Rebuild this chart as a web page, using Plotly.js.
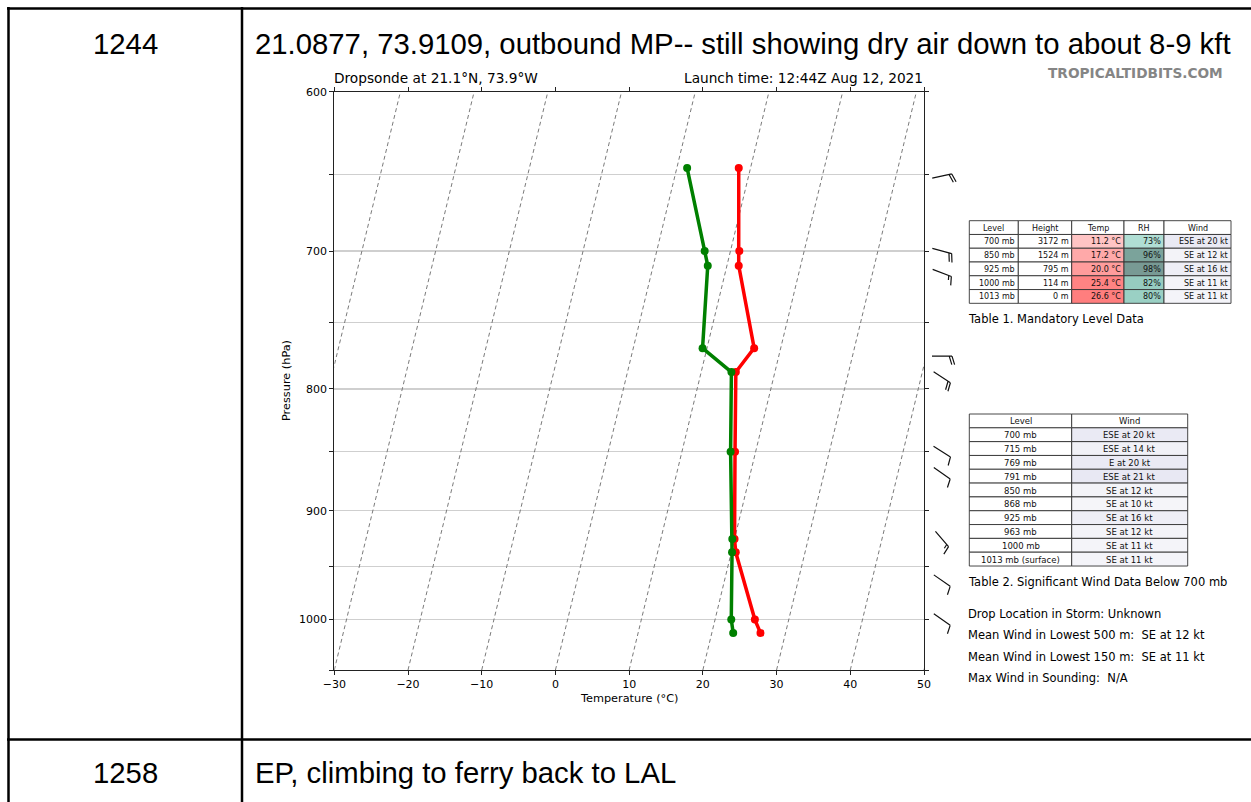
<!DOCTYPE html>
<html><head><meta charset="utf-8">
<script src="https://cdn.plot.ly/plotly-3.0.1.min.js"></script>
<style>html,body{margin:0;padding:0;background:#fff;}#chart{width:1251px;height:802px;}</style>
</head><body><div id="chart"></div>
<script>
// ---------------- data ----------------
const pressureLevels = [646, 700, 710, 769, 787, 850, 925, 937, 1000, 1013];
const temperatureC   = [8.4, 11.2, 11.6, 16.4, 14.7, 17.2, 20.0, 20.6, 25.4, 26.6];
const dewpointC      = [1.4, 6.5, 7.4, 9.4, 14.1, 16.6, 19.7, 20.1, 22.2, 22.9];

const barbPressure  = [651, 700, 715, 775, 791, 850, 868, 925, 963, 1000];
const barbDirection = [78, 105, 111, 90, 123, 122, 125, 139, 125, 125];
const barbSpeed     = [20, 20, 14, 20, 21, 12, 10, 16, 12, 11];

const xTickVals = [-30, -20, -10, 0, 10, 20, 30, 40, 50];
const xTickText = ['\u221230', '\u221220', '\u221210', '0', '10', '20', '30', '40', '50'];
const pTickVals = [600, 650, 700, 750, 800, 850, 900, 950, 1000, 1050];
const pTickText = ['600', '', '700', '', '800', '', '900', '', '1000', ''];
const isotherms = [-50, -40, -30, -20, -10, 0, 10, 20, 30, 40, 50];

const t1Header = ['Level', 'Height', 'Temp', 'RH', 'Wind'];
const t1Level  = ['700 mb', '850 mb', '925 mb', '1000 mb', '1013 mb'];
const t1Height = ['3172 m', '1524 m', '795 m', '114 m', '0 m'];
const t1Temp   = [11.2, 17.2, 20.0, 25.4, 26.6];
const t1RH     = [73, 96, 98, 82, 80];
const t1Wind   = ['ESE at 20 kt', 'SE at 12 kt', 'SE at 16 kt', 'SE at 11 kt', 'SE at 11 kt'];

const t2Header = ['Level', 'Wind'];
const t2Level  = ['700 mb', '715 mb', '769 mb', '791 mb', '850 mb', '868 mb', '925 mb', '963 mb', '1000 mb', '1013 mb (surface)'];
const t2Wind   = ['ESE at 20 kt', 'ESE at 14 kt', 'E at 20 kt', 'ESE at 21 kt', 'SE at 12 kt', 'SE at 10 kt', 'SE at 16 kt', 'SE at 12 kt', 'SE at 11 kt', 'SE at 11 kt'];

const infoLines = ['Drop Location in Storm: Unknown', 'Mean Wind in Lowest 500 m:  SE at 12 kt', 'Mean Wind in Lowest 150 m:  SE at 11 kt', 'Max Wind in Sounding:  N/A'];
const docRows = [['1244', '21.0877, 73.9109, outbound MP-- still showing dry air down to about 8-9 kft'], ['1258', 'EP, climbing to ferry back to LAL']];

// ---------------- geometry / helpers ----------------
const W = 1251, H = 802;
const fx = v => v / W;
const fy = v => 1 - v / H;
const P_BOT = 1050, P_TOP = 600, SKEW = 33.9;
const skewX = (t, p) => t + SKEW * Math.log(P_BOT / p);
const ly = p => Math.log(p);
const FONT = 'DejaVu Sans';

function mix(stops, v) {
  if (v <= stops[0][0]) return stops[0][1];
  for (let i = 1; i < stops.length; i++) {
    if (v <= stops[i][0]) {
      const a = stops[i - 1], b = stops[i], t = (v - a[0]) / (b[0] - a[0]);
      return a[1].map((c, k) => Math.round(c + (b[1][k] - c) * t));
    }
  }
  return stops[stops.length - 1][1];
}
const rgb = c => `rgb(${c[0]},${c[1]},${c[2]})`;
const tempColor = t => rgb(mix([[10, [255, 202, 202]], [30, [255, 110, 110]]], t));
const rhColor = r => rgb(mix([[70, [185, 228, 219]], [80, [154, 208, 196]], [90, [134, 188, 178]], [100, [116, 146, 140]]], r));
const windColor = s => rgb(mix([[10, [245, 245, 249]], [20, [234, 234, 244]], [25, [226, 226, 240]]], s));
const spd = txt => parseFloat(txt.match(/(\d+) kt/)[1]);

// ---------------- traces ----------------
const isoX = [], isoY = [];
isotherms.forEach(t => {
  isoX.push(skewX(t, P_BOT), skewX(t, P_TOP), null);
  isoY.push(ly(P_BOT), ly(P_TOP), null);
});
const traces = [
  {x: isoX, y: isoY, mode: 'lines', line: {color: '#7a7a7a', width: 1, dash: '4px,3px'}, hoverinfo: 'skip', showlegend: false},
  {x: temperatureC.map((t, i) => skewX(t, pressureLevels[i])), y: pressureLevels.map(ly), mode: 'lines+markers',
   line: {color: '#ff0000', width: 3.5}, marker: {color: '#ff0000', size: 8}, showlegend: false, name: 'Temperature'},
  {x: dewpointC.map((t, i) => skewX(t, pressureLevels[i])), y: pressureLevels.map(ly), mode: 'lines+markers',
   line: {color: '#008000', width: 3.5}, marker: {color: '#008000', size: 8}, showlegend: false, name: 'Dewpoint'}
];

// ---------------- shapes ----------------
const shapes = [];
const bl = {color: '#000', width: 2.5};
shapes.push({type: 'line', xref: 'paper', yref: 'paper', x0: fx(7), x1: fx(1251), y0: fy(8.5), y1: fy(8.5), line: bl});
shapes.push({type: 'line', xref: 'paper', yref: 'paper', x0: fx(8.5), x1: fx(8.5), y0: fy(7), y1: fy(802), line: bl});
shapes.push({type: 'line', xref: 'paper', yref: 'paper', x0: fx(242), x1: fx(242), y0: fy(7), y1: fy(802), line: bl});
shapes.push({type: 'line', xref: 'paper', yref: 'paper', x0: fx(7), x1: fx(1251), y0: fy(739.5), y1: fy(739.5), line: bl});

// wind barbs
function barbPath(dir, speed) {
  const L = 20, h = 8.5, w = 2.6, sp = 2.8;
  const th = dir * Math.PI / 180;
  const ux = Math.sin(th), uy = -Math.cos(th); // screen coords, y down
  const nx = -uy, ny = ux;
  const r = Math.round(speed / 5) * 5;
  const full = Math.floor(r / 10), half = (r % 10) >= 5 ? 1 : 0;
  const pt = (x, y) => `${x.toFixed(2)},${(-y).toFixed(2)}`;
  const tx = ux * L / 2, ty = uy * L / 2;
  let d = `M${pt(-tx, -ty)} L${pt(tx, ty)}`;
  for (let i = 0; i < full; i++) {
    const sx = tx - i * sp * ux, sy = ty - i * sp * uy;
    d += ` M${pt(sx, sy)} L${pt(sx + h * nx + w * ux, sy + h * ny + w * uy)}`;
  }
  if (half) {
    const k = full === 0 ? 1 : full;
    const sx = tx - k * sp * ux, sy = ty - k * sp * uy;
    d += ` M${pt(sx, sy)} L${pt(sx + h / 2 * nx + w / 2 * ux, sy + h / 2 * ny + w / 2 * uy)}`;
  }
  return d;
}
barbPressure.forEach((p, i) => {
  shapes.push({type: 'path', xref: 'paper', yref: 'y', xsizemode: 'pixel', ysizemode: 'pixel',
    xanchor: fx(942), yanchor: ly(p), path: barbPath(barbDirection[i], barbSpeed[i]),
    line: {color: '#111', width: 1.2}, layer: 'above'});
});

const annotations = [];
function txt(text, x, y, opts) {
  annotations.push(Object.assign({text: text, x: fx(x), y: fy(y), xref: 'paper', yref: 'paper', showarrow: false,
    xanchor: 'center', yanchor: 'middle', font: {family: FONT, size: 11, color: '#000'}}, opts || {}));
}

function table(colEdges, rowTop, rowH, header, columns, fills, aligns, fontSize) {
  const nRows = columns[0].length + 1;
  for (let r = 0; r < nRows; r++) {
    for (let c = 0; c < colEdges.length - 1; c++) {
      const x0 = colEdges[c], x1 = colEdges[c + 1], y0 = rowTop + r * rowH, y1 = y0 + rowH;
      const fill = r === 0 ? '#ffffff' : fills[c](r - 1);
      shapes.push({type: 'rect', xref: 'paper', yref: 'paper', x0: fx(x0), x1: fx(x1), y0: fy(y0), y1: fy(y1),
        fillcolor: fill, line: {color: '#333', width: 0.9}, layer: 'above'});
      const t = r === 0 ? header[c] : columns[c][r - 1];
      const al = r === 0 ? 'center' : aligns[c];
      const tx = al === 'right' ? x1 - 1 : (x0 + x1) / 2;
      txt(t, tx, (y0 + y1) / 2 + 0.5, {xanchor: al, font: {family: FONT, size: fontSize, color: '#111'}});
    }
  }
}
const white = () => '#ffffff';
table([969.3, 1018.3, 1071.7, 1124, 1164, 1231], 220.7, 13.77, t1Header,
  [t1Level, t1Height, t1Temp.map(v => v.toFixed(1) + ' \u00b0C'), t1RH.map(v => v + '%'), t1Wind],
  [white, white, i => tempColor(t1Temp[i]), i => rhColor(t1RH[i]), i => windColor(spd(t1Wind[i]))],
  ['right', 'right', 'right', 'right', 'right'], 8);
table([969.3, 1071.7, 1187.7], 414, 13.82, t2Header, [t2Level, t2Wind],
  [white, i => windColor(spd(t2Wind[i]))], ['center', 'center'], 8.5);

const capFont = {family: FONT, size: 11.5, color: '#000'};
txt('Table 1. Mandatory Level Data', 966, 318.5, {xanchor: 'left', font: capFont});
txt('Table 2. Significant Wind Data Below 700 mb', 966, 581.5, {xanchor: 'left', font: capFont});
infoLines.forEach((s, i) => txt(s, 966, 614 + i * 21.4, {xanchor: 'left', font: capFont}));

// chart texts
txt('Dropsonde at 21.1\u00b0N, 73.9\u00b0W', 332, 78, {xanchor: 'left', font: {family: FONT, size: 13.7, color: '#000'}});
txt('Launch time: 12:44Z Aug 12, 2021', 925.5, 78, {xanchor: 'right', font: {family: FONT, size: 13.7, color: '#000'}});
txt('TROPICALTIDBITS.COM', 1225, 73, {xanchor: 'right', font: {family: FONT, size: 13.7, color: '#858585', weight: 'bold'}});
txt('Pressure (hPa)', 286, 381, {textangle: -90, font: {family: FONT, size: 11.3, color: '#000'}});
txt('Temperature (\u00b0C)', 629, 698, {font: {family: FONT, size: 11.3, color: '#000'}});

// document cells
const docFont = {family: 'Liberation Sans, Arial, sans-serif', size: 29.3, color: '#000'};
txt(docRows[0][0], 125, 43, {font: docFont});
txt(docRows[0][1], 253, 43, {xanchor: 'left', font: docFont});
txt(docRows[1][0], 125, 772, {font: docFont});
txt(docRows[1][1], 253, 772, {xanchor: 'left', font: docFont});

const axisCommon = {showline: true, linecolor: '#222', linewidth: 1.2, ticks: 'outside', ticklen: 4, tickwidth: 1,
  tickcolor: '#222', mirror: 'ticks', zeroline: false, tickfont: {family: FONT, size: 11, color: '#000'}};
const layout = {
  width: W, height: H, margin: {l: 0, r: 0, t: 0, b: 0}, paper_bgcolor: '#fff', plot_bgcolor: '#fff',
  showlegend: false,
  xaxis: Object.assign({}, axisCommon, {domain: [fx(334.3), fx(924)], range: [-30, 50], tickvals: xTickVals, ticktext: xTickText, showgrid: false, anchor: 'y'}),
  yaxis: Object.assign({}, axisCommon, {domain: [fy(670), fy(91.7)], range: [ly(P_BOT), ly(P_TOP)],
    tickvals: pTickVals.map(ly), ticktext: pTickText, showgrid: true, gridcolor: '#cfcfcf', gridwidth: 1.2, anchor: 'x'}),
  shapes: shapes, annotations: annotations
};
Plotly.newPlot('chart', traces, layout, {displayModeBar: false, staticPlot: true});
</script></body></html>
